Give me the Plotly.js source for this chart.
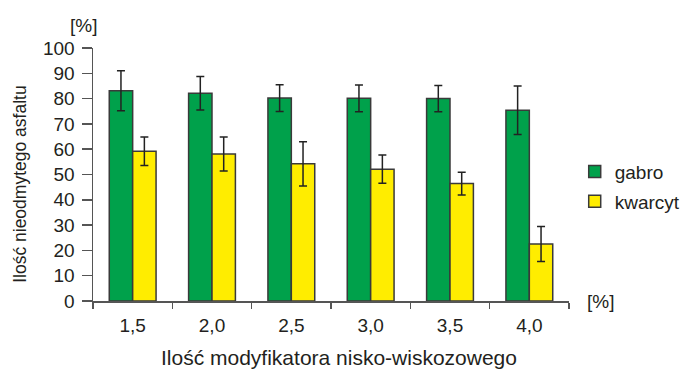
<!DOCTYPE html>
<html>
<head>
<meta charset="utf-8">
<script src="https://cdn.plot.ly/plotly-3.0.1.min.js"></script>
<style>html,body{margin:0;padding:0;background:#fff;}#chart{width:684px;height:374px;}</style>
</head>
<body>
<div id="chart"></div>
<script>
const categories = ["1,5", "2,0", "2,5", "3,0", "3,5", "4,0"];
const gabroValues = [83.1, 82.1, 80.2, 80.1, 80.0, 75.4];
const gabroErrors = [7.9, 6.6, 5.3, 5.3, 5.2, 9.6];
const kwarcytValues = [59.2, 58.1, 54.2, 52.1, 46.4, 22.5];
const kwarcytErrors = [5.6, 6.7, 8.7, 5.6, 4.5, 6.9];
const yTicks = [0, 10, 20, 30, 40, 50, 60, 70, 80, 90, 100];
const xTitle = "Ilość modyfikatora nisko-wiskozowego";
const yTitle = "Ilość nieodmytego asfaltu";
const unitLabel = "[%]";

const textColor = "#231f20";
const family = "Liberation Sans, Arial, sans-serif";
const font = {family: family, size: 19, color: textColor};
const xTitleFont = {family: family, size: 21, color: textColor};
const yTitleFont = {family: family, size: 17.5, color: textColor};

const traces = [
  {
    type: "bar", name: "gabro", legendgroup: "g1", x: categories, y: gabroValues,
    marker: {color: "#00a14b", line: {color: "#3a3a3a", width: 1.5}},
    error_y: {type: "data", array: gabroErrors, visible: true, color: "#222222", thickness: 1.5, width: 4}
  },
  {
    type: "bar", name: "kwarcyt", legendgroup: "g2", x: categories, y: kwarcytValues,
    marker: {color: "#ffed00", line: {color: "#3a3a3a", width: 1.5}},
    error_y: {type: "data", array: kwarcytErrors, visible: true, color: "#222222", thickness: 1.5, width: 4}
  }
];

const layout = {
  width: 684, height: 374,
  margin: {l: 93, r: 115, t: 48, b: 73, autoexpand: false},
  paper_bgcolor: "#ffffff", plot_bgcolor: "#ffffff",
  font: font,
  barmode: "group",
  bargap: 0.41, bargroupgap: 0,
  showlegend: true,
  legend: {x: 1.012, y: 0.452, xanchor: "left", yanchor: "middle", font: font, bgcolor: "rgba(0,0,0,0)", itemwidth: 30, tracegroupgap: 2},
  xaxis: {
    type: "category", tickson: "boundaries",
    showline: true, linecolor: "#555555", linewidth: 1.5,
    ticks: "outside", ticklen: 6, tickwidth: 1.5, tickcolor: "#555555",
    showgrid: false, zeroline: false, ticklabelstandoff: 7,
    tickfont: font
  },
  yaxis: {
    range: [0, 100], tickvals: yTicks,
    showline: true, linecolor: "#555555", linewidth: 1.5,
    ticks: "outside", ticklen: 10, tickwidth: 1.5, tickcolor: "#555555",
    showgrid: false, zeroline: false, ticklabelstandoff: 3,
    tickfont: font
  },
  annotations: [
    {text: yTitle, textangle: -90, xref: "paper", yref: "paper", x: -0.155, y: 0.46, xanchor: "center", yanchor: "middle", showarrow: false, font: yTitleFont},
    {text: xTitle, xref: "paper", yref: "paper", x: 0.517, y: -0.225, xanchor: "center", yanchor: "middle", showarrow: false, font: xTitleFont},
    {text: unitLabel, xref: "paper", yref: "paper", x: -0.019, y: 1.0, yshift: 10, xanchor: "center", yanchor: "bottom", showarrow: false, font: font},
    {text: unitLabel, xref: "paper", yref: "paper", x: 1.0, xshift: 16, y: 0, xanchor: "left", yanchor: "middle", showarrow: false, font: font}
  ]
};

Plotly.newPlot("chart", traces, layout, {displayModeBar: false, staticPlot: true});
</script>
</body>
</html>
